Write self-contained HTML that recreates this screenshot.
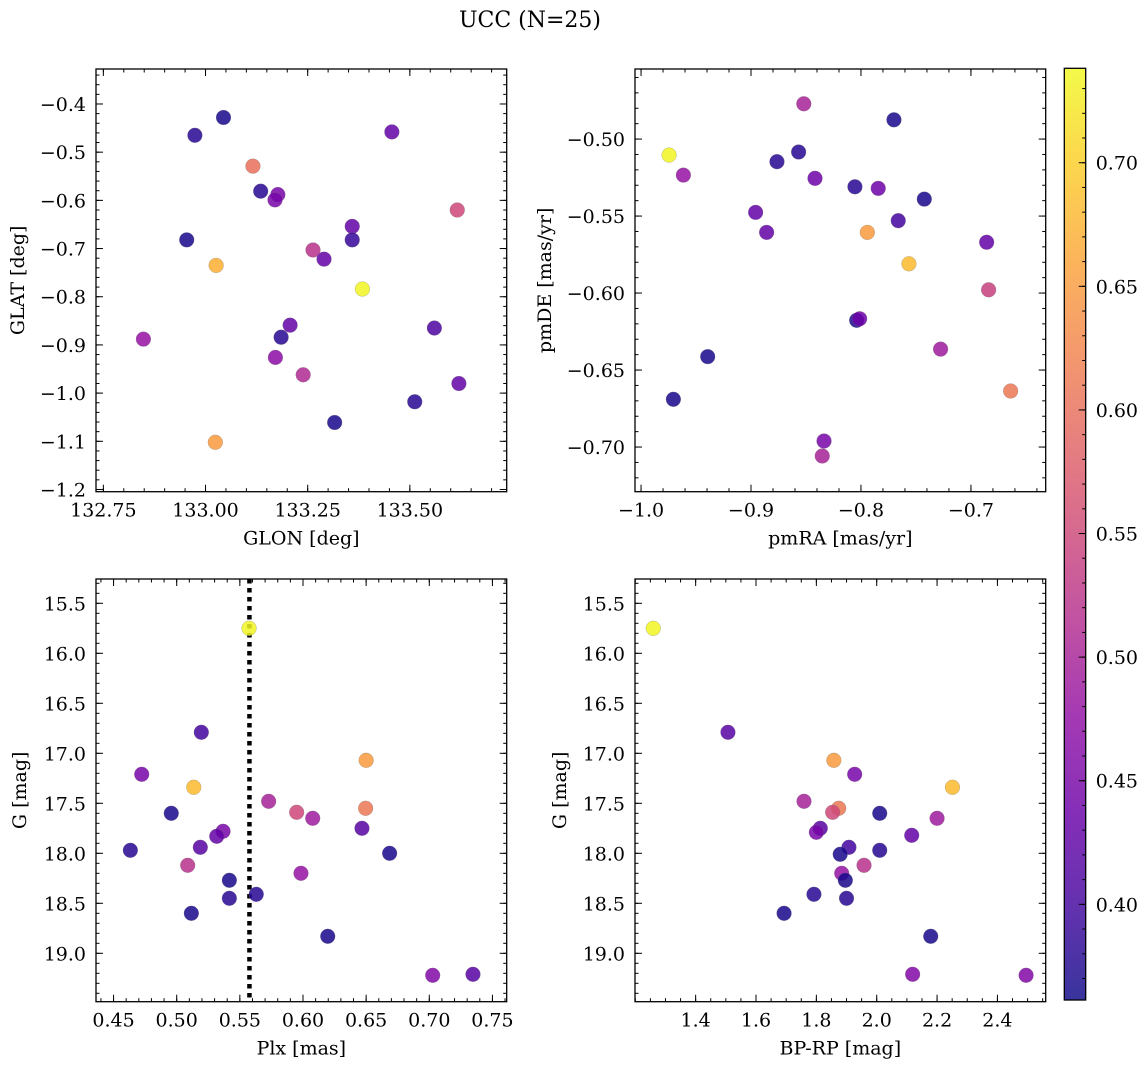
<!DOCTYPE html>
<html><head><meta charset="utf-8"><style>
html,body{margin:0;padding:0;background:#fff;}
svg{display:block;font-family:"DejaVu Serif","Liberation Serif",serif;}
</style></head><body>
<svg id="fig" width="1148" height="1068" viewBox="0 0 1148 1068" xmlns="http://www.w3.org/2000/svg">
<text x="530" y="27" font-size="22" text-anchor="middle">UCC (N=25)</text>
</svg>
<script>
// ---- data ----
const glon = [133.044,132.974,133.456,133.116,133.135,133.177,133.170,133.616,132.954,133.359,133.359,133.263,133.290,133.026,133.384,133.207,133.560,133.185,132.848,133.171,133.239,133.620,133.512,133.316,133.024];
const glat = [-0.428,-0.465,-0.458,-0.529,-0.581,-0.588,-0.599,-0.620,-0.682,-0.654,-0.682,-0.703,-0.722,-0.735,-0.784,-0.859,-0.865,-0.884,-0.888,-0.926,-0.962,-0.980,-1.018,-1.061,-1.102];
const cTL = [0.37,0.38,0.43,0.60,0.38,0.45,0.45,0.55,0.37,0.43,0.39,0.52,0.43,0.67,0.735,0.43,0.41,0.38,0.48,0.47,0.51,0.43,0.38,0.37,0.65];

const pmra = [-0.852,-0.770,-0.9745,-0.9615,-0.8764,-0.8567,-0.8418,-0.8055,-0.7843,-0.7424,-0.8958,-0.7661,-0.8858,-0.7942,-0.7564,-0.6857,-0.6839,-0.8039,-0.8012,-0.7276,-0.9394,-0.6639,-0.9706,-0.8336,-0.8352];
const pmde = [-0.4771,-0.4875,-0.5104,-0.5234,-0.5147,-0.5084,-0.5255,-0.531,-0.532,-0.539,-0.5476,-0.553,-0.5606,-0.5606,-0.581,-0.567,-0.5979,-0.6177,-0.6167,-0.6364,-0.6413,-0.6636,-0.669,-0.6961,-0.7058];
const cTR = [0.50,0.37,0.735,0.48,0.38,0.38,0.44,0.38,0.44,0.37,0.43,0.40,0.43,0.65,0.68,0.43,0.54,0.37,0.44,0.49,0.37,0.61,0.37,0.45,0.50];

const plx = [0.5573,0.5195,0.4723,0.5135,0.650,0.5728,0.6496,0.4957,0.595,0.6077,0.6467,0.5367,0.5317,0.5187,0.4633,0.6686,0.5087,0.5984,0.5417,0.563,0.5417,0.5116,0.6196,0.7027,0.7346];
const gBL = [15.75,16.79,17.21,17.34,17.07,17.48,17.55,17.60,17.59,17.65,17.75,17.78,17.83,17.94,17.97,18.00,18.12,18.20,18.27,18.41,18.45,18.60,18.83,19.22,19.21];
const cBL = [0.735,0.40,0.45,0.68,0.65,0.50,0.61,0.37,0.55,0.49,0.42,0.45,0.43,0.42,0.38,0.37,0.52,0.48,0.37,0.38,0.38,0.37,0.37,0.46,0.42];
const plxLine = [0.5576];

const bprp = [1.2595,1.507,1.858,1.927,2.251,1.759,1.874,1.854,2.010,2.200,1.813,1.800,2.116,1.908,2.010,1.879,1.958,1.884,1.896,1.792,1.900,1.693,2.179,2.119,2.495];
const gBR = [15.75,16.79,17.07,17.21,17.34,17.48,17.55,17.59,17.60,17.65,17.75,17.79,17.82,17.94,17.97,18.01,18.12,18.20,18.27,18.41,18.45,18.60,18.83,19.21,19.22];
const cBR = [0.735,0.42,0.65,0.45,0.68,0.50,0.61,0.55,0.37,0.49,0.42,0.45,0.43,0.40,0.38,0.37,0.52,0.48,0.37,0.38,0.38,0.37,0.37,0.46,0.46];

const cbTicks = [0.40,0.45,0.50,0.55,0.60,0.65,0.70];

// ---- helpers ----
const NS = "http://www.w3.org/2000/svg";
const svg = document.getElementById('fig');
function mk(tag, attrs, parent){const e=document.createElementNS(NS,tag);for(const k in attrs)e.setAttribute(k,attrs[k]);(parent||svg).appendChild(e);return e;}
const stops=[[0,[13,8,135]],[0.1,[65,4,157]],[0.2,[106,0,168]],[0.3,[143,13,164]],[0.4,[177,42,144]],[0.5,[204,71,120]],[0.6,[225,100,98]],[0.7,[242,132,75]],[0.8,[252,166,54]],[0.9,[252,206,37]],[1,[240,249,33]]];
function plasma(t){t=Math.max(0,Math.min(1,t));for(let i=1;i<stops.length;i++){if(t<=stops[i][0]){const a=stops[i-1],b=stops[i];const f=(t-a[0])/(b[0]-a[0]);const c=a[1].map((v,j)=>Math.round(v+(b[1][j]-v)*f));return `rgb(${c[0]},${c[1]},${c[2]})`;}}return 'rgb(240,249,33)';}
const VMIN=0.3613, VMAX=0.7382;
function cnorm(v){return (v-VMIN)/(VMAX-VMIN);}
function fmt(v,d){const s=Math.abs(v).toFixed(d);return (v<0?'\u2212':'')+s;}
const FS=19;

function panel(o){
  const g=mk('g',{});
  
  
  const sx=v=>o.L+(v-o.x0)/(o.x1-o.x0)*(o.R-o.L);
  const sy=v=>o.B-(v-o.y0)/(o.y1-o.y0)*(o.B-o.T);
  const tg=mk('g',{stroke:'#000','stroke-width':1},g);
  
  
  function rng(a,b,step){const lo=Math.min(a,b),hi=Math.max(a,b);const out=[];for(let k=Math.ceil(lo/step-1e-6);k*step<=hi+1e-9;k++)out.push(k*step);return out;}
  rng(o.x0,o.x1,o.xminor).forEach(v=>{const x=sx(v);mk('line',{x1:x,x2:x,y1:o.B,y2:o.B-3.5},tg);mk('line',{x1:x,x2:x,y1:o.T,y2:o.T+3.5},tg);});
  rng(o.y0,o.y1,o.yminor).forEach(v=>{const y=sy(v);mk('line',{x1:o.L,x2:o.L+3.5,y1:y,y2:y},tg);mk('line',{x1:o.R,x2:o.R-3.5,y1:y,y2:y},tg);});
  o.xt.forEach(v=>{const x=sx(v);mk('line',{x1:x,x2:x,y1:o.B,y2:o.B-7},tg);mk('line',{x1:x,x2:x,y1:o.T,y2:o.T+7},tg);
    const t=mk('text',{x:x,y:o.B+25,'font-size':FS,'text-anchor':'middle'},g);t.textContent=fmt(v,o.xd);
    });
  o.yt.forEach(v=>{const y=sy(v);mk('line',{x1:o.L,x2:o.L+7,y1:y,y2:y},tg);mk('line',{x1:o.R,x2:o.R-7,y1:y,y2:y},tg);
    const t=mk('text',{x:o.L-10,y:y+7,'font-size':FS,'text-anchor':'end'},g);t.textContent=fmt(v,o.yd);
    });
  if(o.vline){o.vline.forEach(v=>{const l=mk('line',{x1:sx(v),x2:sx(v),y1:o.T,y2:o.B,stroke:'#000','stroke-width':4.5,'stroke-dasharray':'4.5 4.5'},g);
    });}
  o.xs.forEach((v,i)=>{const c=mk('circle',{cx:sx(v),cy:sy(o.ys[i]),r:7.4,fill:plasma(cnorm(o.cs[i])),'fill-opacity':0.85,stroke:'#777','stroke-opacity':0.5,'stroke-width':0.5},g);
    });
  const f=mk('rect',{x:o.L,y:o.T,width:o.R-o.L,height:o.B-o.T,fill:'none',stroke:'#000','stroke-width':1.3},g);
  
  const xl=mk('text',{x:(o.L+o.R)/2,y:o.B+53,'font-size':FS,'text-anchor':'middle'},g);xl.textContent=o.xlabel;
  
  const cy=(o.T+o.B)/2;
  const yl=mk('text',{x:o.ylx,y:cy,'font-size':FS,'text-anchor':'middle',transform:`rotate(-90 ${o.ylx} ${cy})`},g);yl.textContent=o.ylabel;
  
}

panel({name:'glon-glat-panel',L:96,R:506.7,T:69,B:491.7,x0:132.732,x1:133.737,y0:-1.2046,y1:-0.3274,
  xt:[132.75,133.0,133.25,133.5],xd:2,yt:[-1.2,-1.1,-1.0,-0.9,-0.8,-0.7,-0.6,-0.5,-0.4],yd:1,xminor:0.05,yminor:0.02,
  xs:glon,ys:glat,cs:cTL,xlabel:'GLON [deg]',ylabel:'GLAT [deg]',ylx:24});
panel({name:'pm-panel',L:635,R:1045.7,T:69,B:491.7,x0:-1.0055,x1:-0.632,y0:-0.729,y1:-0.4545,
  xt:[-1.0,-0.9,-0.8,-0.7],xd:1,yt:[-0.70,-0.65,-0.60,-0.55,-0.50],yd:2,xminor:0.02,yminor:0.01,
  xs:pmra,ys:pmde,cs:cTR,xlabel:'pmRA [mas/yr]',ylabel:'pmDE [mas/yr]',ylx:551});
panel({name:'plx-g-panel',L:96,R:506.7,T:579,B:1001.7,x0:0.4361,x1:0.7613,y0:19.484,y1:15.257,
  xt:[0.45,0.50,0.55,0.60,0.65,0.70,0.75],xd:2,yt:[15.5,16.0,16.5,17.0,17.5,18.0,18.5,19.0],yd:1,xminor:0.01,yminor:0.1,
  xs:plx,ys:gBL,cs:cBL,vline:plxLine,xlabel:'Plx [mas]',ylabel:'G [mag]',ylx:26});
panel({name:'cmd-panel',L:635,R:1045.7,T:579,B:1001.7,x0:1.199,x1:2.560,y0:19.484,y1:15.257,
  xt:[1.4,1.6,1.8,2.0,2.2,2.4],xd:1,yt:[15.5,16.0,16.5,17.0,17.5,18.0,18.5,19.0],yd:1,xminor:0.05,yminor:0.1,
  xs:bprp,ys:gBR,cs:cBR,xlabel:'BP-RP [mag]',ylabel:'G [mag]',ylx:566});

// ---- colorbar ----
(function(){
  const L=1064.3,R=1085.7,T=68.3,B=1000;
  const cg=mk('g',{});
  
  
  const defs=mk('defs',{},cg);
  const lg=mk('linearGradient',{id:'cbg',x1:0,y1:1,x2:0,y2:0},defs);
  for(let i=0;i<=20;i++){const v=VMIN+(VMAX-VMIN)*i/20;mk('stop',{offset:i/20,'stop-color':plasma(cnorm(v))},lg);}
  mk('rect',{x:L,y:T,width:R-L,height:B-T,fill:'url(#cbg)','fill-opacity':0.82},cg);
  const sy=v=>B-(v-VMIN)/(VMAX-VMIN)*(B-T);
  for(let k=37;k<=73;k++){const y=sy(k/100);mk('line',{x1:R,x2:R-3.5,y1:y,y2:y,stroke:'#000','stroke-width':1},cg);}
  cbTicks.forEach(v=>{const y=sy(v);mk('line',{x1:R,x2:R-7,y1:y,y2:y,stroke:'#000','stroke-width':1},cg);
    const t=mk('text',{x:R+10,y:y+7,'font-size':FS},cg);t.textContent=v.toFixed(2);
    });
  mk('rect',{x:L,y:T,width:R-L,height:B-T,fill:'none',stroke:'#000','stroke-width':1.3},cg);
})();
</script>
</body></html>
